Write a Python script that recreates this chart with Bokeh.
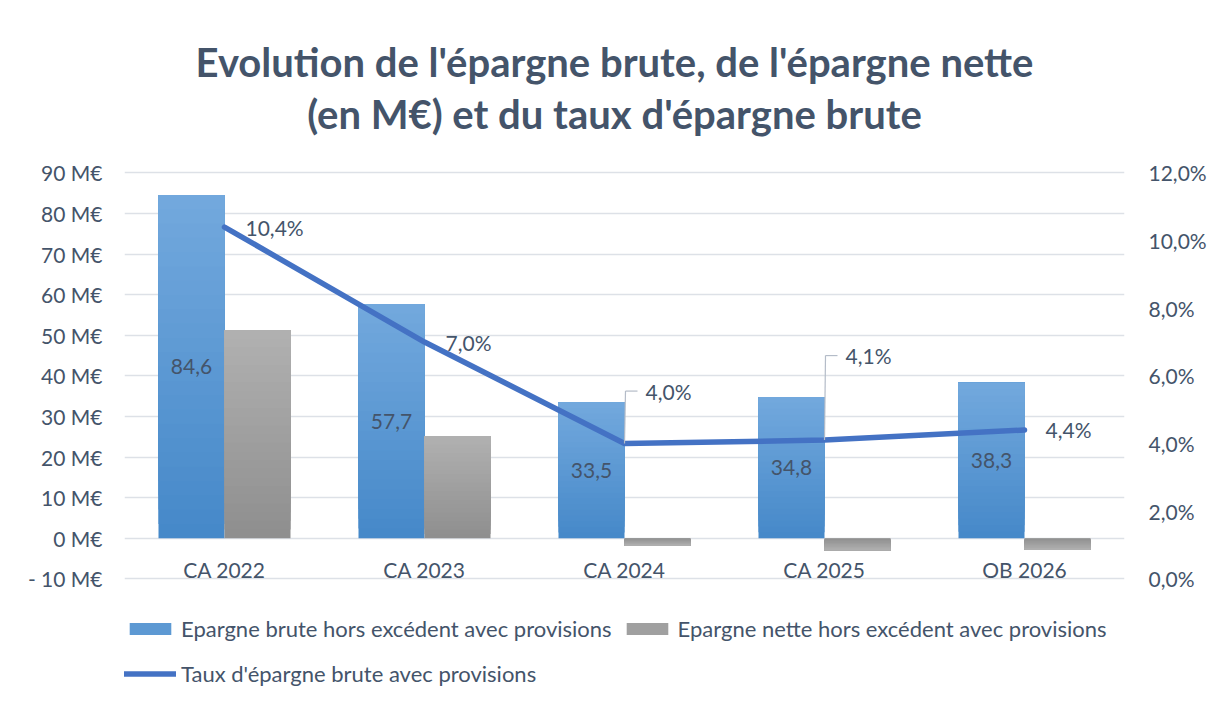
from bokeh.plotting import figure
from bokeh.models import (Range1d, LinearAxis, FactorRange, Legend, LegendItem,
                          FixedTicker, ColumnDataSource, Label)
from bokeh.core.properties import value
from bokeh.transform import dodge
from bokeh.embed import file_html
from bokeh.resources import INLINE

# ---------------- data ----------------
categories = ["CA 2022", "CA 2023", "CA 2024", "CA 2025", "OB 2026"]
epargne_brute = [84.6, 57.7, 33.5, 34.8, 38.3]
epargne_nette = [51.3, 25.2, -1.8, -3.0, -2.8]
taux_epargne = [10.4, 7.0, 4.0, 4.1, 4.4]
brute_labels = ["84,6", "57,7", "33,5", "34,8", "38,3"]
taux_labels = ["10,4%", "7,0%", "4,0%", "4,1%", "4,4%"]

left_ticks = [-10, 0, 10, 20, 30, 40, 50, 60, 70, 80, 90]
left_tick_labels = ["- 10 M€", "0 M€", "10 M€", "20 M€", "30 M€", "40 M€",
                    "50 M€", "60 M€", "70 M€", "80 M€", "90 M€"]
right_ticks = [0, 2, 4, 6, 8, 10, 12]
right_tick_labels = ["0,0%", "2,0%", "4,0%", "6,0%", "8,0%", "10,0%", "12,0%"]

title_line1 = "Evolution de l'épargne brute, de l'épargne nette"
title_line2 = "(en M€) et du taux d'épargne brute"
legend_brute = "Epargne brute hors excédent avec provisions"
legend_nette = "Epargne nette hors excédent avec provisions"
legend_taux = "Taux d'épargne brute avec provisions"

# ---------------- style ----------------
FONT = "Lato"
TXT = "#44546A"
GRID = "#DDE1E7"
BLUE_LINE = "#4472C4"
FS = "21px"

# The frame covers the whole height (white, no outline); only the -10..90 band
# carries grid lines, so title and legend can live inside it without clipping.
p = figure(width=1209, height=702,
           x_range=FactorRange(*categories, range_padding=0, factor_padding=0),
           y_range=Range1d(-40, 132.5),
           output_backend="svg", toolbar_location=None,
           min_border_left=124, min_border_right=85,
           min_border_top=0, min_border_bottom=2)
p.extra_y_ranges = {"pct": Range1d(-3.6, 17.1)}
p.outline_line_color = None
p.background_fill_color = "white"
p.border_fill_color = "white"
p.title.visible = False

# title lines
for txt, ty in ((title_line1, 117.3), (title_line2, 104.5)):
    p.add_layout(Label(x=2.45, y=ty, text=txt, text_align="center",
                       text_baseline="alphabetic", text_font=FONT,
                       text_font_style="bold", text_font_size="40px",
                       text_color=TXT))

# grid
p.xgrid.visible = False
p.ygrid.ticker = FixedTicker(ticks=left_ticks)
p.ygrid.grid_line_color = GRID
p.ygrid.grid_line_width = 1.5

# left axis
ya = p.yaxis[0]
ya.ticker = FixedTicker(ticks=left_ticks)
ya.major_label_overrides = {t: l for t, l in zip(left_ticks, left_tick_labels)}
ya.axis_line_color = None
ya.major_tick_line_color = None
ya.minor_tick_line_color = None
ya.major_label_standoff = 16
ya.major_label_text_font = FONT
ya.major_label_text_font_size = FS
ya.major_label_text_color = TXT

# right axis
ra = LinearAxis(y_range_name="pct", ticker=FixedTicker(ticks=right_ticks))
ra.major_label_overrides = {t: l for t, l in zip(right_ticks, right_tick_labels)}
ra.axis_line_color = None
ra.major_tick_line_color = None
ra.minor_tick_line_color = None
ra.major_label_standoff = 18
ra.major_label_text_font = FONT
ra.major_label_text_font_size = FS
ra.major_label_text_color = TXT
p.add_layout(ra, "right")

# category axis drawn as text next to the zero line
p.xaxis.visible = False

src = ColumnDataSource(dict(cat=categories, brute=epargne_brute, nette=epargne_nette,
                            taux=taux_epargne, blab=brute_labels, tlab=taux_labels,
                            bmid=[v / 2 for v in epargne_brute],
                            zero=[0] * len(categories)))

p.text(x="cat", y="zero", text="cat", source=src, y_offset=31,
       text_font=value(FONT), text_font_size=FS, text_color=TXT,
       text_align="center", text_baseline="middle")

# gradient bars (painter's order: full bar, then progressively higher slices)
def lerp(c1, c2, t):
    a = [int(c1[i:i + 2], 16) for i in (1, 3, 5)]
    b = [int(c2[i:i + 2], 16) for i in (1, 3, 5)]
    return "#%02x%02x%02x" % tuple(round(a[i] + (b[i] - a[i]) * t) for i in range(3))

N = 24
BW = 0.33
blue_r = gray_r = None
for k in range(N):
    t = k / (N - 1)
    frac = k / N
    s = ColumnDataSource(dict(cat=categories,
                              bb=[v * frac for v in epargne_brute], bt=epargne_brute,
                              nb=[v * frac for v in epargne_nette], nt=epargne_nette))
    r1 = p.vbar(x=dodge("cat", -BW / 2, range=p.x_range), bottom="bb", top="bt", width=BW,
                source=s, fill_color=lerp("#4689C9", "#72A8DD", t), line_color=None)
    r2 = p.vbar(x=dodge("cat", BW / 2, range=p.x_range), bottom="nb", top="nt", width=BW,
                source=s, fill_color=lerp("#8F8F8F", "#B0B0B0", t), line_color=None)
    if k == N // 2:
        blue_r, gray_r = r1, r2

# bar data labels
p.text(x=dodge("cat", -BW / 2, range=p.x_range), y="bmid", text="blab", source=src,
       text_font=value(FONT), text_font_size=FS, text_color=TXT,
       text_align="center", text_baseline="middle")

# line
line_r = p.line(x="cat", y="taux", source=src, y_range_name="pct",
                line_color=BLUE_LINE, line_width=5.5, line_cap="round", line_join="round")

# leader lines for the moved labels
lead = ColumnDataSource(dict(cat=["CA 2024", "CA 2025"], y=[4.0, 4.1], top=[5.55, 6.6]))
p.segment(x0=dodge("cat", 0.0, range=p.x_range), y0="y",
          x1=dodge("cat", 0.005, range=p.x_range), y1="top",
          source=lead, y_range_name="pct", line_color="#B4BCC8", line_width=1.2)
p.segment(x0=dodge("cat", 0.005, range=p.x_range), y0="top",
          x1=dodge("cat", 0.065, range=p.x_range), y1="top",
          source=lead, y_range_name="pct", line_color="#B4BCC8", line_width=1.2)

# line labels
lab_src = ColumnDataSource(dict(cat=categories, taux=taux_epargne, tlab=taux_labels,
                                yoff=[0, 0, -52, -85, 0]))
p.text(x="cat", y="taux", text="tlab", source=lab_src, y_range_name="pct",
       x_offset=21, y_offset="yoff",
       text_font=value(FONT), text_font_size=FS, text_color=TXT,
       text_align="left", text_baseline="middle")

# legends
leg1 = Legend(items=[LegendItem(label=legend_brute, renderers=[blue_r]),
                     LegendItem(label=legend_nette, renderers=[gray_r])],
              orientation="horizontal", location=(0, 58))
leg2 = Legend(items=[LegendItem(label=legend_taux, renderers=[line_r])],
              orientation="horizontal", location=(0, 13))
for lg in (leg1, leg2):
    lg.label_text_font = FONT
    lg.label_text_font_size = "22px"
    lg.label_text_color = TXT
    lg.glyph_width = 52
    lg.glyph_height = 15
    lg.label_height = 21
    lg.label_standoff = 5
    lg.spacing = 9
    lg.padding = 0
    lg.margin = 0
    lg.border_line_color = None
    lg.background_fill_alpha = 0
    p.add_layout(lg, "center")

open("out.html", "w").write(file_html(p, INLINE))
